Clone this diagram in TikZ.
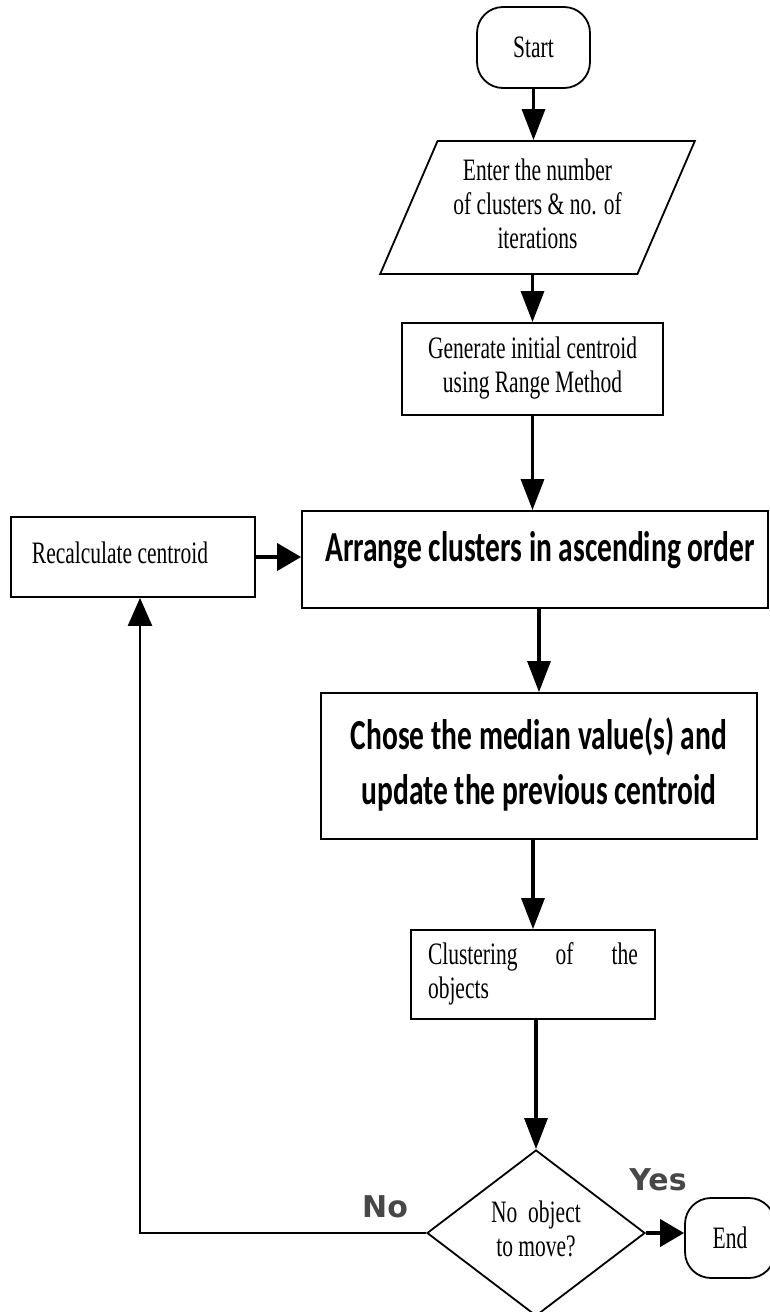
\documentclass[tikz,border=0pt]{standalone}
\usepackage{fontspec}
\usepackage{graphicx}
\setmainfont{Liberation Serif}
\newfontfamily\sansf{Carlito}
\newfontfamily\lblf{DejaVu Sans}
\usetikzlibrary{shapes.geometric,arrows.meta}
\newcommand\vst[1]{\scalebox{1}[1.45]{#1}}
\begin{document}
\begin{tikzpicture}[x=1pt,y=-1pt,
  box/.style={draw, line width=1.8pt, inner sep=0pt, align=center},
  term/.style={box, rounded corners=26pt},
  serif/.style={font=\fontsize{21.5}{23.5}\selectfont},
  sansbig/.style={font=\sansf\bfseries\fontsize{29.5}{38}\selectfont},
  varr/.style={line width=3.2pt, -{Triangle[width=23pt,length=31pt]}},
  harr/.style={line width=4pt, -{Triangle[width=27pt,length=24pt]}},
  loopline/.style={line width=2.4pt, -{Triangle[width=24pt,length=28pt]}},
  lbl/.style={text=black!72, font=\lblf\bfseries\fontsize{30}{30}\selectfont, inner sep=0pt}
]
\useasboundingbox (0,0) rectangle (770,1312);
\fill[white] (0,0) rectangle (770,1312);

\node[term, serif, minimum width=113pt, minimum height=81pt] (start) at (533.5,47.5) {\vst{Start}};

\node[box, serif, trapezium, trapezium left angle=64.7, trapezium right angle=115.3,
      trapezium stretches=true, minimum width=315pt, minimum height=133pt] (para) at (537.5,207.5)
  {\vst{\begin{tabular}{@{}c@{}}Enter the number\\ of clusters \& no. of\\ iterations\end{tabular}}};

\node[box, serif, minimum width=261pt, minimum height=92pt] (gen) at (532.5,369)
  {\vst{\begin{tabular}{@{}c@{}}Generate initial centroid\\ using Range Method\end{tabular}}};

\node[box, minimum width=466pt, minimum height=97pt] (arr) at (535,559.5) {};
\node[sansbig, inner sep=0pt] (arrT) at (540,550) {\vst{Arrange clusters in ascending order}};

\node[box, minimum width=244pt, minimum height=80pt] (rec) at (133,557) {};
\node[serif, inner sep=0pt] (recT) at (120,553) {\vst{Recalculate centroid}};

\node[box, sansbig, minimum width=436pt, minimum height=146pt] (cho) at (539,766)
  {\vst{\begin{tabular}{@{}c@{}}Chose the median value(s) and\\ update the previous centroid\end{tabular}}};

\node[box, serif, minimum width=244pt, minimum height=89pt] (clu) at (533,974.5)
  {\vst{\begin{tabular}{@{}l@{}}\makebox[210pt][s]{Clustering\hfill of\hfill the}\\ objects\end{tabular}}};

\node[box, serif, diamond, minimum width=218pt, minimum height=166pt] (dia) at (536,1233)
  {\vst{\begin{tabular}{@{}c@{}}No\ \ object\\ to move?\end{tabular}}};

\node[term, serif, minimum width=90pt, minimum height=80pt] (end) at (730,1238) {\vst{End}};

\node[lbl] (yes) at (658,1180) {Yes};
\node[lbl] (no) at (385,1207) {No};

\draw[varr] (start.south) -- (start.south |- para.north);
\draw[varr] (gen.north |- para.south) -- (gen.north);
\draw[varr] (gen.south) -- (gen.south |- arr.north);
\draw[varr] (cho.north |- arr.south) -- (cho.north);
\draw[varr] (clu.north |- cho.south) -- (clu.north);
\draw[varr] (dia.north |- clu.south) -- (dia.north);
\draw[harr] (dia.east) -- (end.west |- dia.east);
\draw[harr] (rec.east) -- (arr.west |- rec.east);
\coordinate (lp) at (140,1233);
\draw[loopline] (dia.west) -- (lp) -- (lp |- rec.south);
\end{tikzpicture}
\end{document}
